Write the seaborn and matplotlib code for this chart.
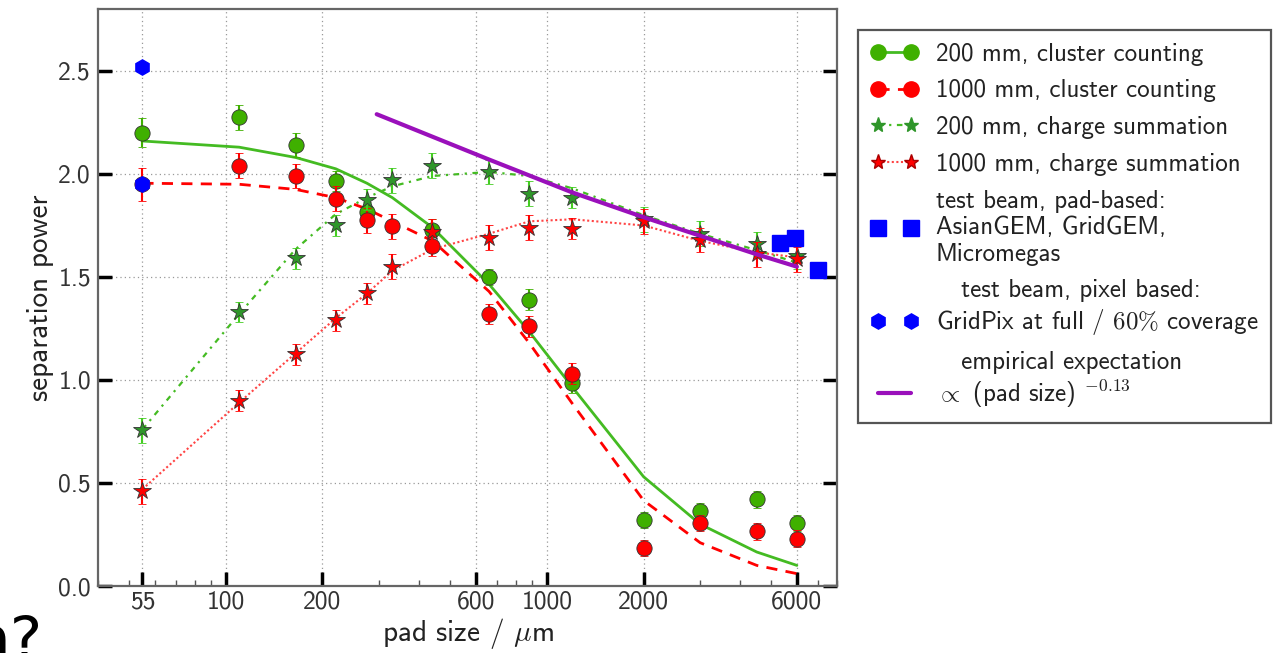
import matplotlib
matplotlib.use('Agg')
import matplotlib.pyplot as plt
from matplotlib.lines import Line2D
from matplotlib.legend_handler import HandlerLine2D
from matplotlib.ticker import FixedLocator, LogLocator, NullFormatter, FixedFormatter
import seaborn as sns

# pad sizes in um
pad_size = [55, 110, 165, 220, 275, 330, 440, 660, 880, 1200, 2000, 3000, 4500, 6000]

# 200 mm, cluster counting (no visible point at 330)
cc200_x = [55, 110, 165, 220, 275, 440, 660, 880, 1200, 2000, 3000, 4500, 6000]
cc200_y = [2.20, 2.275, 2.14, 1.965, 1.815, 1.73, 1.50, 1.39, 0.985, 0.32, 0.365, 0.42, 0.305]
cc200_err = [0.07, 0.06, 0.06, 0.05, 0.05, 0.05, 0.04, 0.05, 0.05, 0.04, 0.04, 0.04, 0.04]

# 1000 mm, cluster counting
cc1000_y = [1.95, 2.04, 1.99, 1.88, 1.775, 1.745, 1.65, 1.32, 1.26, 1.03, 0.185, 0.305, 0.265, 0.23]
cc1000_err = [0.08, 0.06, 0.06, 0.06, 0.06, 0.06, 0.05, 0.05, 0.05, 0.05, 0.04, 0.04, 0.04, 0.04]

# charge summation
cs200_y = [0.755, 1.33, 1.59, 1.75, 1.875, 1.97, 2.04, 2.01, 1.905, 1.885, 1.78, 1.71, 1.66, 1.60]
cs1000_y = [0.46, 0.90, 1.125, 1.29, 1.42, 1.55, 1.72, 1.69, 1.74, 1.735, 1.77, 1.68, 1.61, 1.585]
cs_err = [0.06, 0.05, 0.05, 0.05, 0.05, 0.06, 0.06, 0.06, 0.06, 0.05, 0.06, 0.06, 0.06, 0.06]

# curves through the points
fit_cc200 = [2.16, 2.13, 2.08, 2.025, 1.955, 1.885, 1.74, 1.465, 1.235, 0.965, 0.53, 0.30, 0.165, 0.10]
fit_cc1000 = [1.955, 1.95, 1.925, 1.885, 1.83, 1.77, 1.675, 1.43, 1.18, 0.885, 0.415, 0.21, 0.10, 0.06]
fit_cs200 = [0.76, 1.32, 1.635, 1.805, 1.885, 1.94, 1.99, 2.01, 1.99, 1.93, 1.80, 1.71, 1.63, 1.57]
fit_cs1000 = [0.47, 0.89, 1.13, 1.30, 1.42, 1.53, 1.635, 1.71, 1.77, 1.78, 1.75, 1.675, 1.62, 1.595]

# test beam results
pad_tb_x = [5300, 5900, 7000]
pad_tb_y = [1.665, 1.69, 1.535]
pix_tb_x = [55, 55]
pix_tb_y = [2.52, 1.95]

# empirical expectation
emp_x = [295, 660, 1200, 2000, 3000, 4500, 6000]
emp_y = [2.29, 2.07, 1.91, 1.79, 1.70, 1.61, 1.55]

x_ticks = [55, 100, 200, 600, 1000, 2000, 6000]
y_ticks = [0.0, 0.5, 1.0, 1.5, 2.0, 2.5]

GREEN = '#3fb000'
GREEN_STAR = '#2f962a'
GREEN_LINE = '#44bb22'
RED = '#ff0000'
BLUE = '#0000ff'
PURPLE = '#9a10bb'

sns.set_style('white')
plt.rcParams['font.family'] = ['cmss10', 'DejaVu Sans']
plt.rcParams['mathtext.fontset'] = 'cm'
plt.rcParams['axes.unicode_minus'] = False

fig = plt.figure(figsize=(12.73, 6.53), dpi=100)
ax = fig.add_axes([0.077, 0.1026, 0.5805, 0.8834])

# curves
sns.lineplot(x=pad_size, y=fit_cc200, ax=ax, color=GREEN_LINE, lw=2, estimator=None, sort=False, zorder=2)
sns.lineplot(x=pad_size, y=fit_cc1000, ax=ax, color=RED, lw=2, estimator=None, sort=False,
             linestyle=(0, (4, 3)), zorder=2)
sns.lineplot(x=pad_size, y=fit_cs200, ax=ax, color=GREEN_LINE, lw=1.6, estimator=None, sort=False,
             linestyle=(0, (2.5, 2.5, 1, 2.5)), zorder=2)
sns.lineplot(x=pad_size, y=fit_cs1000, ax=ax, color='#ff4444', lw=1.5, estimator=None, sort=False,
             linestyle=(0, (1, 1.2)), zorder=2)

# data points
ebkw = dict(linestyle='none', capsize=3, elinewidth=1.5, capthick=1.5, markeredgecolor='#333333',
            markeredgewidth=0.6)
ax.errorbar(cc200_x, cc200_y, yerr=cc200_err, fmt='o', color=GREEN, ms=11, zorder=3, **ebkw)
ax.errorbar(pad_size, cc1000_y, yerr=cc1000_err, fmt='o', color=RED, ms=11, zorder=4, **ebkw)
ax.errorbar(pad_size, cs200_y, yerr=cs_err, fmt='*', color=GREEN_STAR, ecolor='#44cc22', ms=13, zorder=5, **ebkw)
ax.errorbar(pad_size, cs1000_y, yerr=cs_err, fmt='*', color=RED, ms=13, zorder=6, **ebkw)

sns.lineplot(x=emp_x, y=emp_y, ax=ax, color=PURPLE, lw=3, estimator=None, sort=False, zorder=7)
ax.plot(pad_tb_x, pad_tb_y, 's', color=BLUE, ms=11, zorder=8, linestyle='none')
ax.plot(pix_tb_x, pix_tb_y, 'h', color=BLUE, ms=11, zorder=8, linestyle='none')

ax.set_xscale('log')
ax.set_xlim(40, 8000)
ax.set_ylim(0, 2.8)
ax.xaxis.set_major_locator(FixedLocator(x_ticks))
ax.xaxis.set_major_formatter(FixedFormatter([str(t) for t in x_ticks]))
ax.xaxis.set_minor_locator(LogLocator(base=10, subs=range(2, 10), numticks=20))
ax.xaxis.set_minor_formatter(NullFormatter())
ax.yaxis.set_major_locator(FixedLocator(y_ticks))
ax.set_yticklabels([f'{t:.1f}' for t in y_ticks])

ax.grid(True, which='major', linestyle=(0, (1, 2.5)), color='#999999', lw=0.9)
ax.tick_params(which='major', direction='in', length=10, width=2.5, color='black',
               left=True, bottom=True, right=True, top=False,
               labelsize=18.5, labelcolor='#333333', pad=3)
ax.tick_params(axis='y', pad=5)
ax.tick_params(which='minor', axis='x', direction='in', length=4, width=1, color='#555555',
               bottom=True, top=False)
for s in ax.spines.values():
    s.set_color('#666666')
    s.set_linewidth(1.6)

ax.set_xlabel(r'pad size / $\mu$m', fontsize=21, color='#222222', labelpad=2)
ax.set_ylabel('separation power', fontsize=21, color='#222222', labelpad=3)


class ShiftedHandler(HandlerLine2D):
    def __init__(self, shift=0.0, **kw):
        super().__init__(**kw)
        self.shift = shift

    def create_artists(self, legend, orig_handle, xdescent, ydescent, width, height, fontsize, trans):
        return super().create_artists(legend, orig_handle, xdescent, ydescent - 2 * self.shift,
                                      width, height, fontsize, trans)


handles = [
    Line2D([], [], color=GREEN_LINE, lw=2, marker='o', ms=11, mfc=GREEN, mec=GREEN),
    Line2D([], [], color=RED, lw=2, linestyle=(0, (4, 3)), marker='o', ms=11, mfc=RED, mec=RED),
    Line2D([], [], color=GREEN_LINE, lw=1.6, linestyle=(0, (2.5, 2.5, 1, 2.5)), marker='*', ms=11,
           mfc=GREEN_STAR, mec=GREEN_STAR),
    Line2D([], [], color='#ff4444', lw=1.5, linestyle=(0, (1, 1.2)), marker='*', ms=11, mfc=RED, mec='#aa0000'),
    Line2D([], [], color=BLUE, linestyle='none', marker='s', ms=11),
    Line2D([], [], color=BLUE, linestyle='none', marker='h', ms=11),
    Line2D([], [], color=PURPLE, lw=3),
]
labels = [
    '200 mm, cluster counting',
    '1000 mm, cluster counting',
    '200 mm, charge summation',
    '1000 mm, charge summation',
    'test beam, pad-based:\nAsianGEM, GridGEM,\nMicromegas',
    '   test beam, pixel based:\nGridPix at full / $60\\%$ coverage',
    '   empirical expectation\n$\\propto$ (pad size) $^{-0.13}$',
]
leg = fig.legend(handles, labels, loc='upper left', bbox_to_anchor=(0.674, 0.954),
                 bbox_transform=fig.transFigure, borderaxespad=0, fontsize=18, numpoints=2,
                 handlelength=1.9, labelspacing=0.55, handletextpad=0.7, borderpad=0.5,
                 fancybox=False, edgecolor='#555555', framealpha=1,
                 handler_map={handles[5]: ShiftedHandler(shift=-9.0),
                              handles[6]: ShiftedHandler(shift=-9.0)})
leg.get_frame().set_linewidth(1.6)
for t in leg.get_texts():
    t.set_color('#222222')

# fragment of the slide title under the chart
fig.text(-0.022, -0.011, 'n?', fontsize=44, family='DejaVu Sans', color='black')

fig.savefig('out.png', dpi=100)
